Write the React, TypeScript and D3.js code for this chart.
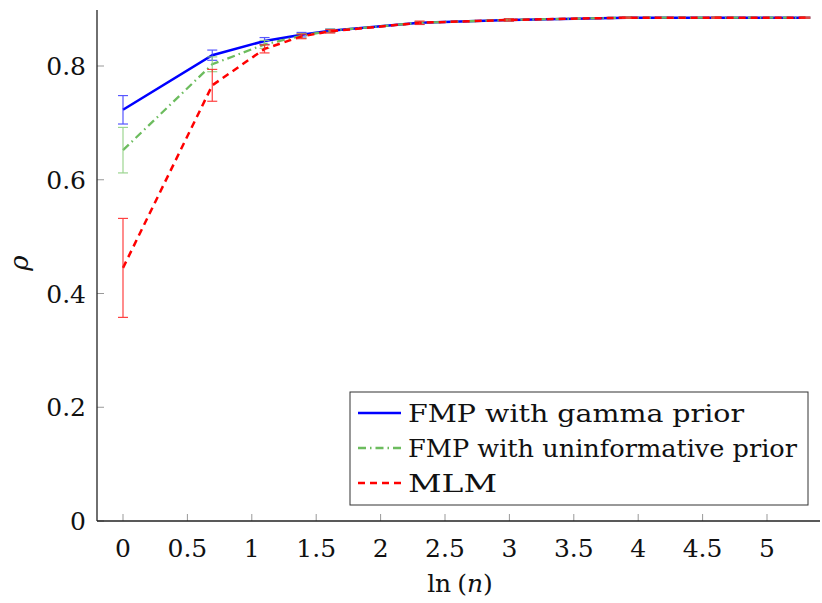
import React from "react";
import * as d3 from "d3";

const xs = [0, 0.693, 1.099, 1.386, 1.609, 2.303, 2.996, 3.912, 4.605, 5.298];
const gammaMean = [0.723, 0.819, 0.844, 0.855, 0.862, 0.876, 0.881, 0.885, 0.885, 0.885];
const gammaErr = [0.025, 0.009, 0.006, 0.004, 0.003, 0.002, 0.002, 0.001, 0.001, 0.001];
const uninfMean = [0.652, 0.803, 0.838, 0.853, 0.862, 0.876, 0.881, 0.885, 0.885, 0.885];
const uninfErr = [0.04, 0.013, 0.007, 0.004, 0.003, 0.002, 0.002, 0.001, 0.001, 0.001];
const mlmMean = [0.445, 0.766, 0.830, 0.852, 0.861, 0.876, 0.881, 0.885, 0.885, 0.885];
const mlmErr = [0.087, 0.028, 0.007, 0.004, 0.003, 0.003, 0.002, 0.001, 0.001, 0.001];
const xTicks = [0, 0.5, 1, 1.5, 2, 2.5, 3, 3.5, 4, 4.5, 5];
const yTicks = [0, 0.2, 0.4, 0.6, 0.8];
const seriesNames = ["FMP with gamma prior", "FMP with uninformative prior", "MLM"];
const legendWidths = [336, 389, 89];

const FONT = "'DejaVu Serif', 'Liberation Serif', serif";
const FS = 25;

export default function App() {
  const x = d3.scaleLinear().domain([0, 5]).range([123, 767]);
  const y = d3.scaleLinear().domain([0, 0.8]).range([521, 66]);
  const left = 97, right = 820, bottom = 521, top = 10;

  const series = [
    { name: seriesNames[0], mean: gammaMean, err: gammaErr, color: "#0000ff", errColor: "#3a3aff", dash: "", width: 2.5 },
    { name: seriesNames[1], mean: uninfMean, err: uninfErr, color: "#6cbc5e", errColor: "#8ccf7e", dash: "8 4 1.5 4", width: 2.3 },
    { name: seriesNames[2], mean: mlmMean, err: mlmErr, color: "#ff0000", errColor: "#ff2020", dash: "7 5", width: 2.5 },
  ];

  const line = d3.line<[number, number]>().x((d) => x(d[0])).y((d) => y(d[1]));

  return (
    <svg width={822} height={603} style={{ position: "absolute", left: 0, top: 0, background: "#fff" }} fontFamily={FONT}>
      {yTicks.map((t) => (
        <g key={"y" + t}>
          <line x1={left} x2={left + 7} y1={y(t)} y2={y(t)} stroke="#999" strokeWidth={1} />
          <text x={86} y={y(t)} dy="0.36em" textAnchor="end" fontSize={FS} fill="#111">{t === 0 ? "0" : t.toFixed(1)}</text>
        </g>
      ))}
      {xTicks.map((t) => (
        <g key={"x" + t}>
          <line x1={x(t)} x2={x(t)} y1={bottom} y2={bottom - 7} stroke="#999" strokeWidth={1} />
          <text x={x(t)} y={557} textAnchor="middle" fontSize={FS} fill="#111">{String(t)}</text>
        </g>
      ))}
      <line x1={left} x2={left} y1={top} y2={bottom} stroke="#222" strokeWidth={1.3} />
      <line x1={left} x2={right} y1={bottom} y2={bottom} stroke="#222" strokeWidth={1.3} />

      {series.map((s) => (
        <g key={s.name}>
          <path d={line(xs.map((v, i) => [v, s.mean[i]] as [number, number])) || ""} fill="none" stroke={s.color} strokeWidth={s.width} strokeDasharray={s.dash} />
          {xs.map((v, i) => {
            const cx = x(v);
            const y1 = y(s.mean[i] + s.err[i]);
            const y2 = y(s.mean[i] - s.err[i]);
            return (
              <g key={i} stroke={s.errColor} strokeWidth={1.2} opacity={0.85}>
                <line x1={cx} x2={cx} y1={y1} y2={y2} />
                <line x1={cx - 5} x2={cx + 5} y1={y1} y2={y1} />
                <line x1={cx - 5} x2={cx + 5} y1={y2} y2={y2} />
              </g>
            );
          })}
        </g>
      ))}

      <text x={460} y={592} textAnchor="middle" fontSize={FS} fill="#111">
        ln<tspan dx={6}>(</tspan><tspan fontStyle="italic">n</tspan>)
      </text>
      <text transform="translate(28,263) rotate(-90)" textAnchor="middle" fontSize={26} fontStyle="italic" fill="#111">ρ</text>

      <rect x={350} y={392} width={458} height={113} fill="#fff" stroke="#333" strokeWidth={1} />
      {series.map((s, i) => {
        const ly = 413 + i * 35;
        return (
          <g key={"lg" + i}>
            <line x1={358} x2={401} y1={ly} y2={ly} stroke={s.color} strokeWidth={s.width} strokeDasharray={s.dash} />
            <text x={408} y={ly} dy="0.36em" fontSize={FS} fill="#111" textLength={legendWidths[i]} lengthAdjust="spacingAndGlyphs">{s.name}</text>
          </g>
        );
      })}
    </svg>
  );
}
